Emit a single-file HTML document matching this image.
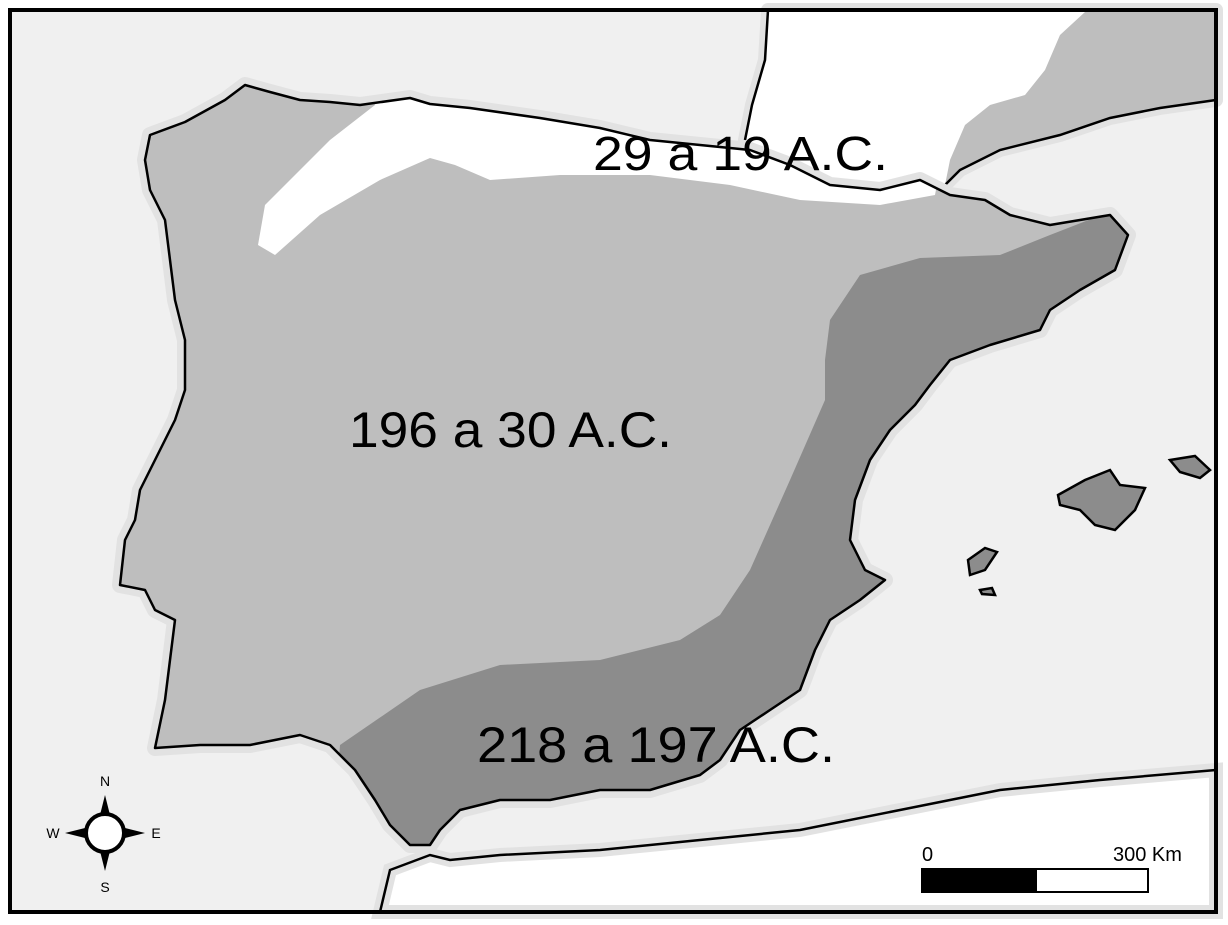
<!DOCTYPE html>
<html><head><meta charset="utf-8"><style>
html,body{margin:0;padding:0;background:#fff;}
svg{display:block;font-family:"Liberation Sans",sans-serif;}
</style></head><body>
<svg width="1228" height="925" viewBox="0 0 1228 925">
<defs>
<clipPath id="ib"><path id="ibp" d="M150,135 L185,122 L225,100 L245,85 L270,92 L300,100 L330,102 L360,105 L410,98 L430,104 L470,108 L540,118 L600,128 L650,140 L700,145 L750,150 L790,165 L830,185 L880,190 L920,180 L950,195 L985,200 L1010,215 L1050,225 L1110,215 L1128,235 L1115,270 L1080,290 L1050,310 L1040,330 L990,345 L950,360 L930,385 L915,405 L890,430 L870,460 L855,500 L850,540 L865,570 L885,580 L860,600 L830,620 L815,650 L800,690 L770,710 L740,730 L720,760 L700,775 L650,790 L600,790 L550,800 L500,800 L460,810 L440,830 L430,845 L410,845 L390,825 L375,800 L355,770 L330,745 L300,735 L250,745 L200,745 L155,748 L165,700 L170,660 L175,620 L155,610 L145,590 L120,585 L125,540 L135,520 L140,490 L160,450 L175,420 L185,390 L185,340 L175,300 L170,260 L165,220 L150,190 L145,160 Z"/></clipPath>
</defs>
<rect x="0" y="0" width="1228" height="925" fill="#fff"/>
<rect x="10" y="10" width="1206" height="902" fill="#f0f0f0"/>
<path d="M768,10 L765,60 L752,105 L745,140 L790,165 L830,185 L880,190 L920,180 L945,185 L960,170 L1000,150 L1060,135 L1110,118 L1160,108 L1216,100 L1216,10 Z" fill="#fff" stroke="#e2e2e2" stroke-width="14" stroke-linejoin="round"/>
<path d="M768,10 L765,60 L752,105 L745,140 L790,165 L830,185 L880,190 L920,180 L945,185 L960,170 L1000,150 L1060,135 L1110,118 L1160,108 L1216,100 L1216,10 Z" fill="#fff"/>
<path d="M1085,12 L1216,12 L1216,100 L1160,108 L1110,118 L1060,135 L1000,150 L960,170 L945,185 L950,160 L965,125 L990,105 L1025,95 L1045,70 L1060,35 Z" fill="#bebebe"/>
<path d="M768,10 L765,60 L752,105 L745,140 M945,185 L960,170 L1000,150 L1060,135 L1110,118 L1160,108 L1216,100" fill="none" stroke="#000" stroke-width="2.5"/>
<path d="M380,912 L390,870 L430,855 L450,860 L500,855 L600,850 L700,840 L800,830 L900,810 L1000,790 L1100,780 L1216,770 L1216,912 Z" fill="#fff" stroke="#e2e2e2" stroke-width="14"/>
<path d="M380,912 L390,870 L430,855 L450,860 L500,855 L600,850 L700,840 L800,830 L900,810 L1000,790 L1100,780 L1216,770" fill="none" stroke="#000" stroke-width="2.5"/>
<use href="#ibp" fill="none" stroke="#e2e2e2" stroke-width="16" stroke-linejoin="round"/>
<use href="#ibp" fill="#bebebe"/>
<g clip-path="url(#ib)">
<path d="M360,60 L375,105 L330,140 L300,170 L265,205 L258,245 L275,255 L320,215 L380,180 L430,158 L455,165 L490,180 L560,175 L650,175 L730,185 L800,200 L880,205 L935,195 L960,60 Z" fill="#fff"/>
<path d="M1140,200 L1050,235 L1000,255 L920,258 L860,275 L830,320 L825,360 L825,400 L790,480 L750,570 L720,615 L680,640 L600,660 L500,665 L420,690 L340,745 L330,870 L1200,870 Z" fill="#8c8c8c" stroke-linejoin="round"/>
</g>
<use href="#ibp" fill="none" stroke="#000" stroke-width="2.5" stroke-linejoin="round"/>
<g fill="#8c8c8c" stroke="#000" stroke-width="2.5">
<path d="M1058,495 L1085,480 L1110,470 L1120,485 L1145,488 L1135,510 L1115,530 L1095,525 L1080,510 L1060,505 Z"/>
<path d="M1170,460 L1195,456 L1210,470 L1200,478 L1180,472 Z"/>
<path d="M968,560 L985,548 L997,552 L985,570 L970,575 Z"/>
<path d="M980,590 L992,588 L995,595 L982,594 Z"/>
</g>
<text x="593" y="170" font-size="48" textLength="295" lengthAdjust="spacingAndGlyphs">29 a 19 A.C.</text>
<text x="349" y="447" font-size="50" textLength="323" lengthAdjust="spacingAndGlyphs">196 a 30 A.C.</text>
<text x="477" y="762" font-size="50" textLength="358" lengthAdjust="spacingAndGlyphs">218 a 197 A.C.</text>
<g>
<polygon points="105,795 110,815 100,815" fill="#000"/>
<polygon points="105,871 110,851 100,851" fill="#000"/>
<polygon points="65,833 85,828 85,838" fill="#000"/>
<polygon points="145,833 125,828 125,838" fill="#000"/>
<circle cx="105" cy="833" r="19" fill="#fff" stroke="#000" stroke-width="4"/>
<text x="105" y="786" font-size="14" text-anchor="middle">N</text>
<text x="105" y="892" font-size="14" text-anchor="middle">S</text>
<text x="53" y="838" font-size="14" text-anchor="middle">W</text>
<text x="156" y="838" font-size="14" text-anchor="middle">E</text>
</g>
<g>
<rect x="922" y="869" width="226" height="23" fill="#fff" stroke="#000" stroke-width="2"/>
<rect x="922" y="869" width="115" height="23" fill="#000"/>
<text x="922" y="861" font-size="20">0</text>
<text x="1113" y="861" font-size="20">300 Km</text>
</g>
<rect x="10" y="10" width="1206" height="902" fill="none" stroke="#000" stroke-width="4"/>
</svg>
</body></html>
